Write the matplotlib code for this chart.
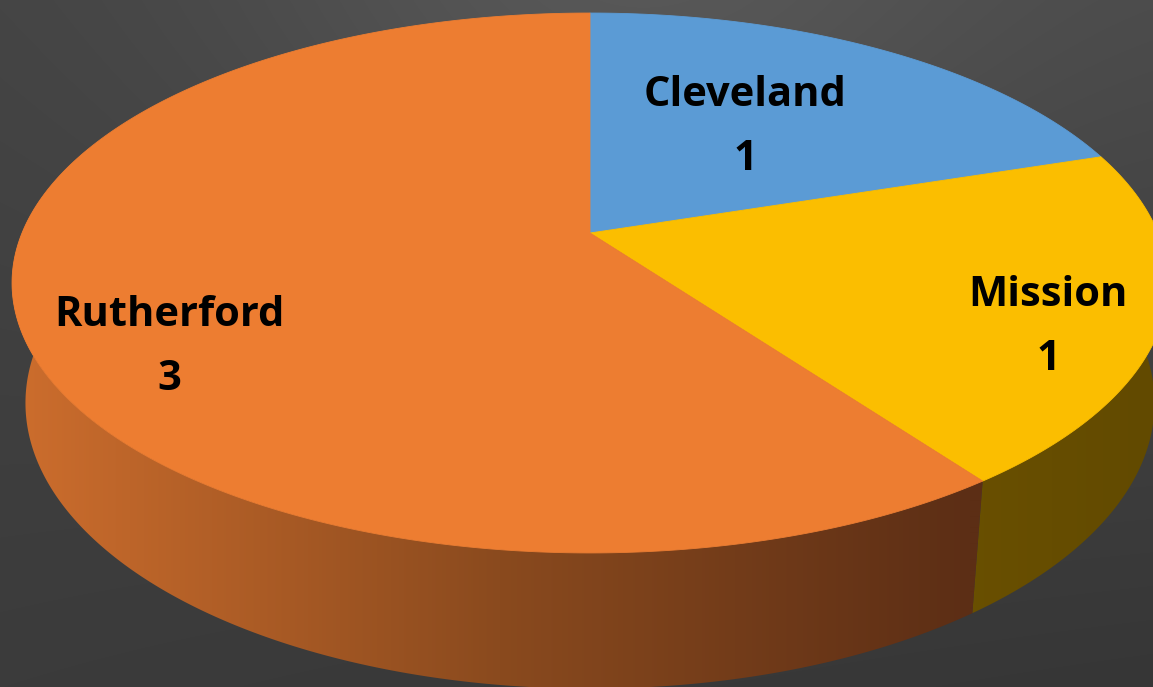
import numpy as np
import matplotlib
matplotlib.use('Agg')
import matplotlib.pyplot as plt
from matplotlib.patches import Polygon
from matplotlib.colors import to_rgb

# ---- data ----
categories = ['Cleveland', 'Mission', 'Rutherford']
values = [1, 1, 3]

# ---- style ----
top_colors = ['#5B9BD5', '#FBBE00', '#ED7D31']
# wall gradient stops (x-pixel, colour) per slice
wall_stops = [
    [(0, '#3F6F9A'), (1153, '#2C4E6E')],
    [(950, '#6A5000'), (1153, '#624A00')],
    [(20, '#CC6D2D'), (500, '#8A4A1E'), (970, '#5C2E15')],
]
label_pos = [(745, 92), (1048, 293), (169, 312)]
line_gap = 64

W, H = 1153, 687
# perspective camera for a unit-radius pie
CX, CY = 590.0, 233.0
SIN_E, COS_E = 0.459, 0.888
L = 4.796
F = 2724.0
HGT = 0.24


def proj(t, z):
    u, v = np.cos(t), np.sin(t)
    den = L - z * SIN_E + v * COS_E
    return CX + F * u / den, CY - F * (v * SIN_E + z * COS_E) / den


def top_pt(t):
    return proj(t, 0.0)


def bot_pt(t):
    return proj(t, -HGT)


fig = plt.figure(figsize=(W / 100, H / 100), dpi=100)
ax = fig.add_axes([0, 0, 1, 1])
ax.set_xlim(0, W)
ax.set_ylim(H, 0)
ax.axis('off')

# background
yy, xx = np.mgrid[0:H, 0:W]
fx, fy = xx / W, yy / H
tl, tr, bl, br = 0x44, 0x4a, 0x3b, 0x36
base = (tl * (1 - fx) * (1 - fy) + tr * fx * (1 - fy) + bl * (1 - fx) * fy + br * fx * fy)
bump = 0x10 * np.exp(-(((xx - 620) / 380.0) ** 2 + ((yy + 20) / 300.0) ** 2))
bg = np.clip((base + bump) / 255.0, 0, 1)
ax.imshow(np.dstack([bg, bg, bg]), extent=(0, W, H, 0), zorder=0, interpolation='bilinear')

# angles (clockwise from 12 o'clock)
total = float(sum(values))
starts, ends = [], []
a = np.pi / 2
for v in values:
    starts.append(a)
    a -= 2 * np.pi * v / total
    ends.append(a)

# walls
front_lo, front_hi = np.deg2rad(-200), np.deg2rad(10)
for i in range(len(values)):
    t0, t1 = starts[i], ends[i]
    hi = min(t0, front_hi)
    lo = max(t1, front_lo)
    if hi <= lo:
        continue
    ts = np.linspace(hi, lo, 300)
    tp = np.array([top_pt(t) for t in ts])
    bp = np.array([bot_pt(t) for t in ts])
    poly = np.vstack([tp, bp[::-1]])
    patch = Polygon(poly, closed=True, facecolor='none', edgecolor='none')
    ax.add_patch(patch)
    stops = wall_stops[i]
    xs_ = np.array([s[0] for s in stops], dtype=float)
    cs = np.array([to_rgb(s[1]) for s in stops])
    gx = np.arange(W)
    grad = np.stack([np.interp(gx, xs_, cs[:, c]) for c in range(3)], axis=-1)
    img = np.repeat(grad[None, :, :], 2, axis=0)
    im = ax.imshow(img, extent=(0, W, H, 0), zorder=2, interpolation='bilinear', aspect='auto')
    im.set_clip_path(patch)

# top faces
for i in range(len(values)):
    ts = np.linspace(starts[i], ends[i], 400)
    pts = [(CX, CY)] + [top_pt(t) for t in ts]
    ax.add_patch(Polygon(pts, closed=True, facecolor=top_colors[i], edgecolor=top_colors[i],
                         linewidth=0.6, zorder=3))

ax.set_xlim(0, W)
ax.set_ylim(H, 0)

# labels
for i, name in enumerate(categories):
    x, y = label_pos[i]
    ax.text(x, y + 3, name, ha='center', va='center', fontsize=30, fontweight='bold',
            family=['Open Sans', 'DejaVu Sans'], color='black', zorder=5)
    ax.text(x, y + 3 + line_gap, str(values[i]), ha='center', va='center', fontsize=30,
            fontweight='bold', family=['Open Sans', 'DejaVu Sans'], color='black', zorder=5)

fig.savefig('out.png', dpi=100)
